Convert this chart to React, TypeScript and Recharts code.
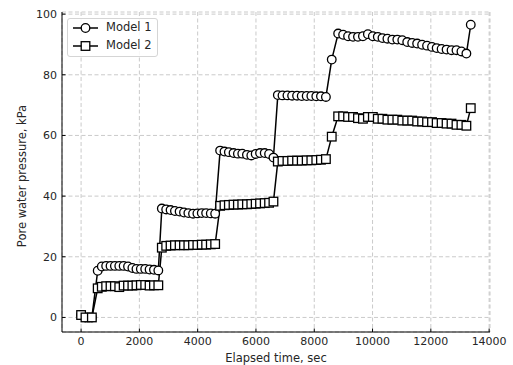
import * as React from 'react'
import { CartesianGrid, Label, Legend, Line, LineChart, XAxis, YAxis } from 'recharts'

// elapsed time of each reading, sec (same sampling for both models)
const elapsedTime = [
  0, 150, 370,
  570, 710, 860, 1010, 1160, 1310, 1460, 1610, 1760, 1900, 2050, 2200, 2350, 2500, 2650,
  2770, 2920, 3070, 3220, 3380, 3530, 3680, 3840, 3990, 4140, 4290, 4450, 4600,
  4770, 4920, 5070, 5230, 5380, 5530, 5690, 5840, 5990, 6140, 6300, 6450, 6600,
  6750, 6910, 7080, 7240, 7410, 7570, 7740, 7900, 8070, 8230, 8400,
  8600,
  8820, 8990, 9160, 9330, 9500, 9670, 9840, 10010, 10180, 10340, 10510, 10680, 10850, 11020,
  11190, 11360, 11530, 11700, 11870, 12040, 12200, 12370, 12540, 12710, 12880, 13050, 13220,
  13370,
]

// pore water pressure, kPa
const model1Pressure = [
  0.8, 0, 0,
  15.4, 16.8, 17.0, 17.0, 17.0, 17.0, 17.0, 16.8, 16.3, 16.0, 16.0, 16.0, 15.8, 15.7, 15.5,
  35.9, 35.6, 35.4, 35.1, 34.9, 34.6, 34.4, 34.2, 34.3, 34.4, 34.4, 34.3, 34.2,
  55.0, 54.7, 54.5, 54.2, 54.0, 54.0, 53.6, 53.4, 53.9, 54.2, 54.2, 53.9, 52.7,
  73.3, 73.2, 73.2, 73.1, 73.1, 73.0, 73.0, 73.0, 72.9, 72.9, 72.7,
  85.0,
  93.6, 93.2, 92.7, 92.5, 92.5, 92.7, 93.4, 92.7, 92.5, 92.1, 91.9, 91.6, 91.6, 91.4,
  90.8, 90.5, 90.3, 89.9, 89.6, 89.2, 88.8, 88.5, 88.3, 88.1, 88.1, 87.7, 87.0,
  96.5,
]

const model2Pressure = [
  0.8, 0, 0,
  9.6, 10.1, 10.3, 10.3, 10.3, 10.0, 10.5, 10.5, 10.5, 10.6, 10.7, 10.7, 10.5, 10.6, 10.6,
  23.0, 23.6, 23.7, 23.8, 23.8, 23.8, 23.8, 23.9, 23.9, 24.0, 24.0, 24.1, 24.2,
  36.8, 37.0, 37.1, 37.2, 37.2, 37.3, 37.3, 37.4, 37.5, 37.6, 37.7, 37.8, 38.2,
  51.4, 51.6, 51.6, 51.7, 51.7, 51.7, 51.8, 51.8, 51.9, 52.0, 52.2,
  59.6,
  66.3, 66.3, 66.1, 66.1, 65.7, 65.5, 66.1, 66.1, 65.5, 65.5, 65.2, 65.2, 65.2, 64.9,
  64.9, 64.9, 64.6, 64.6, 64.4, 64.4, 64.1, 64.1, 63.9, 63.9, 63.5, 63.5, 63.2,
  69.0,
]

const timeTicks = [0, 2000, 4000, 6000, 8000, 10000, 12000, 14000]
const pressureTicks = [0, 20, 40, 60, 80, 100]

const FONT = '"DejaVu Sans", sans-serif'

const rows = elapsedTime.map((t, i) => ({
  t,
  m1: model1Pressure[i],
  m2: model2Pressure[i],
}))

function XTick({ x, y, payload }: any) {
  return (
    <g>
      <line x1={x} x2={x} y1={y} y2={y - 3.5} stroke="#000" strokeWidth={1} />
      <text x={x} y={y + 13} textAnchor="middle" fontSize={11} fill="#262626" fontFamily={FONT}>
        {payload.value}
      </text>
    </g>
  )
}

function YTick({ x, y, payload }: any) {
  return (
    <g>
      <line x1={x} x2={x + 3.5} y1={y} y2={y} stroke="#000" strokeWidth={1} />
      <text x={x - 5} y={y + 4} textAnchor="end" fontSize={11} fill="#262626" fontFamily={FONT}>
        {payload.value}
      </text>
    </g>
  )
}

function SquareDot({ cx, cy, index }: any) {
  if (cx == null || cy == null) return null
  return (
    <rect
      key={`sq-${index}`}
      x={cx - 4.3}
      y={cy - 4.3}
      width={8.6}
      height={8.6}
      fill="#fff"
      stroke="#000"
      strokeWidth={1.3}
    />
  )
}

function LegendBox() {
  const row = (label: string, square: boolean) => (
    <div style={{ display: 'flex', alignItems: 'center', height: 18 }}>
      <svg width={30} height={14} style={{ marginLeft: 5 }}>
        <line x1={0} x2={25} y1={7} y2={7} stroke="#000" strokeWidth={1.5} />
        {square ? (
          <rect x={8.2} y={2.7} width={8.6} height={8.6} fill="#fff" stroke="#000" strokeWidth={1.3} />
        ) : (
          <circle cx={12.5} cy={7} r={4.3} fill="#fff" stroke="#000" strokeWidth={1.3} />
        )}
      </svg>
      <span style={{ marginLeft: 3, fontSize: 11.5, color: '#262626', fontFamily: FONT }}>{label}</span>
    </div>
  )
  return (
    <div
      style={{
        width: 89,
        height: 37,
        border: '1px solid #d5d5d5',
        borderRadius: 3,
        background: 'rgba(255,255,255,0.85)',
        lineHeight: 1,
      }}
    >
      {row('Model 1', false)}
      {row('Model 2', true)}
    </div>
  )
}

function YAxisTitle({ viewBox }: any) {
  const cx = viewBox.x + 22
  const cy = viewBox.y + viewBox.height / 2 + 4
  return (
    <text
      x={cx}
      y={cy}
      transform={`rotate(-90, ${cx}, ${cy})`}
      textAnchor="middle"
      dominantBaseline="central"
      fontSize={11.5}
      fill="#262626"
      fontFamily={FONT}
    >
      Pore water pressure, kPa
    </text>
  )
}

export default function App() {
  return (
    <div style={{ position: 'absolute', left: 0, top: 0, width: 513, height: 365, background: '#fff' }}>
      <LineChart width={513} height={365} data={rows} margin={{ top: 12, right: 23, bottom: 3, left: 0 }}>
        <CartesianGrid stroke="#bdbdbd" strokeDasharray="4 2.5" strokeWidth={0.8} />
        <XAxis
          dataKey="t"
          type="number"
          domain={[-655, 14030]}
          allowDataOverflow
          ticks={timeTicks}
          tick={<XTick />}
          tickLine={false}
          tickSize={0}
          tickMargin={0}
          height={30}
          axisLine={{ stroke: '#000', strokeWidth: 1 }}
        >
          <Label
            value="Elapsed time, sec"
            position="insideBottom"
            offset={0}
            style={{ fontSize: 11.5, fill: '#262626', fontFamily: FONT }}
          />
        </XAxis>
        <XAxis
          xAxisId="top"
          orientation="top"
          type="number"
          domain={[-655, 14030]}
          height={0}
          tick={false}
          tickLine={false}
          axisLine={{ stroke: '#000', strokeWidth: 1 }}
        />
        <YAxis
          type="number"
          domain={[-4.8, 100.7]}
          allowDataOverflow
          ticks={pressureTicks}
          tick={<YTick />}
          tickLine={false}
          tickSize={0}
          tickMargin={0}
          width={62}
          axisLine={{ stroke: '#000', strokeWidth: 1 }}
        >
          <Label content={<YAxisTitle />} />
        </YAxis>
        <YAxis
          yAxisId="right"
          orientation="right"
          type="number"
          domain={[-4.8, 100.7]}
          width={0}
          tick={false}
          tickLine={false}
          axisLine={{ stroke: '#000', strokeWidth: 1 }}
        />
        <Legend
          layout="vertical"
          align="center"
          verticalAlign="middle"
          wrapperStyle={{ left: 67, top: 18, width: 91 }}
          content={<LegendBox />}
        />
        <Line
          dataKey="m1"
          name="Model 1"
          stroke="#000"
          strokeWidth={1.5}
          dot={{ r: 4.3, fill: '#fff', stroke: '#000', strokeWidth: 1.3 }}
          activeDot={false}
          isAnimationActive={false}
        />
        <Line
          dataKey="m2"
          name="Model 2"
          stroke="#000"
          strokeWidth={1.5}
          dot={<SquareDot />}
          activeDot={false}
          isAnimationActive={false}
        />
      </LineChart>
    </div>
  )
}
